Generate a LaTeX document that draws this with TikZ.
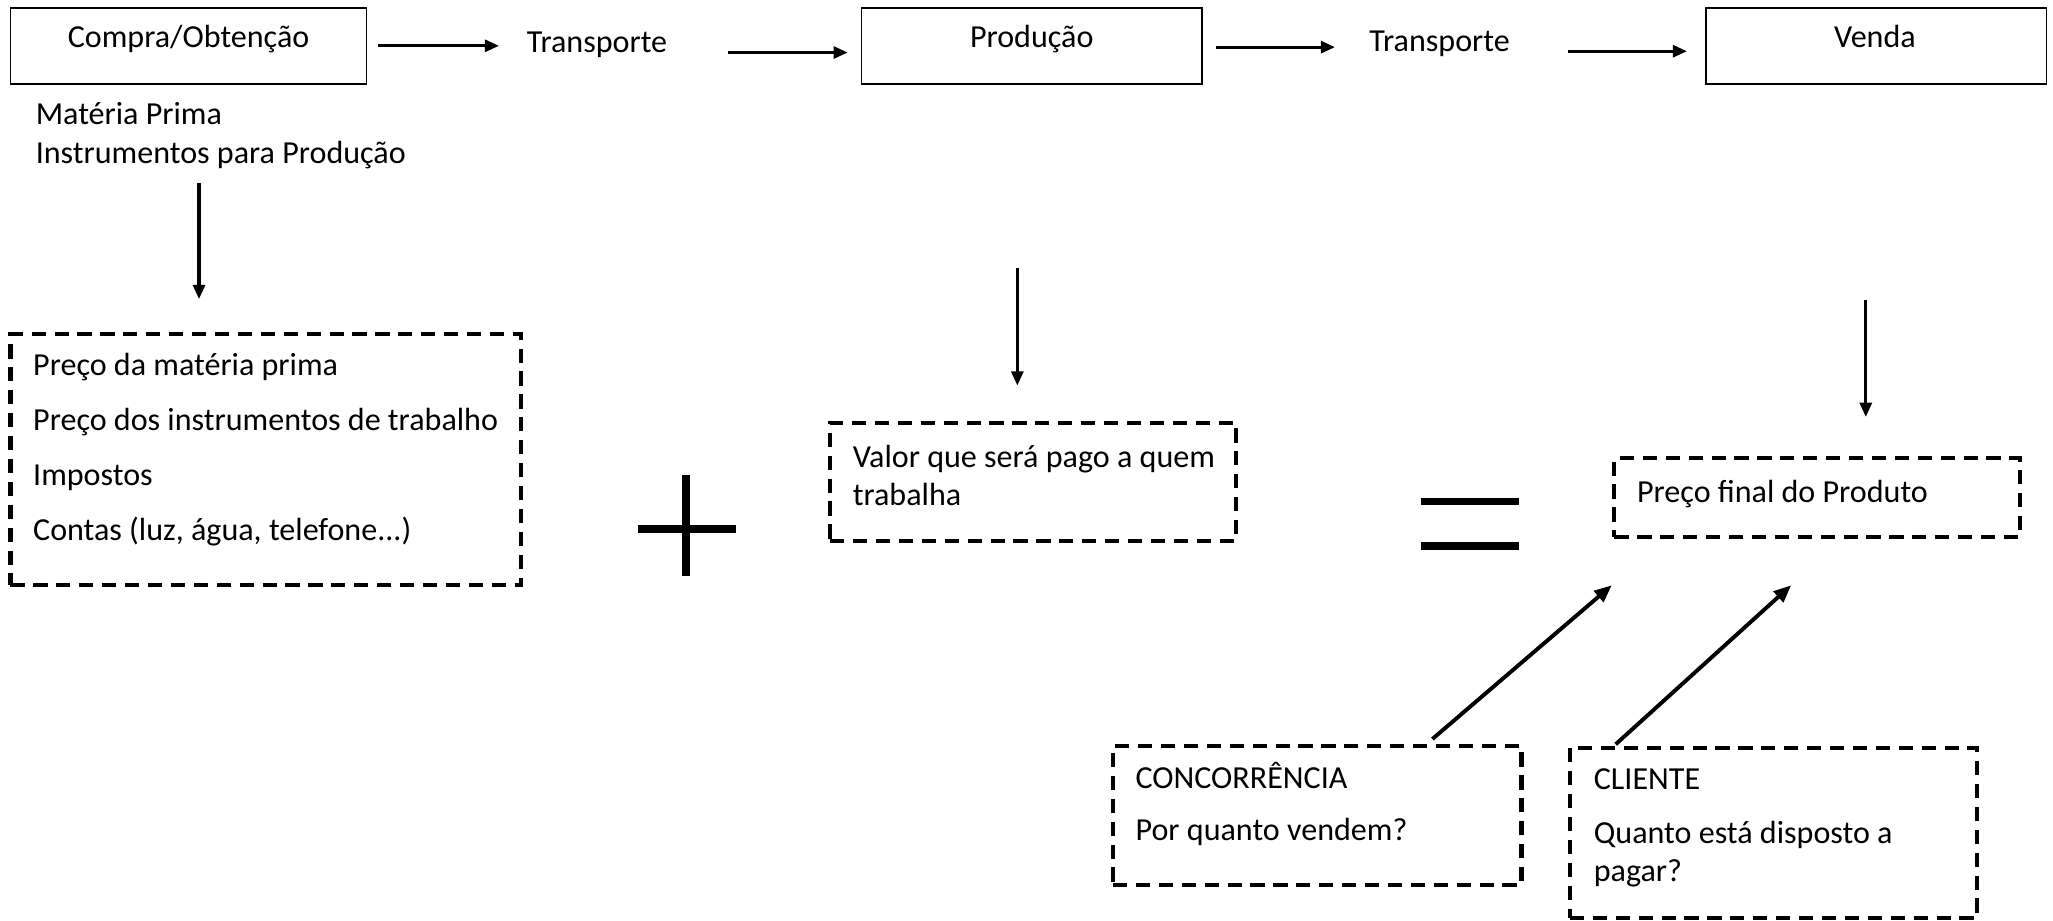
\documentclass[tikz,border=0pt]{standalone}
\usepackage{fontspec}
\setmainfont{Carlito}
\usetikzlibrary{arrows.meta}
\begin{document}
\begin{tikzpicture}[x=0.6pt, y=-0.6pt,
  every node/.style={font=\fontsize{14.7pt}{17.6pt}\selectfont},
  solidbox/.style={draw, line width=0.7pt, minimum width=156pt, minimum height=34.8pt, inner sep=0pt},
  dashbox/.style={draw, line width=1.9pt, dash pattern=on 6.5pt off 4pt, inner sep=0pt},
  txt/.style={inner sep=0pt, anchor=base},
  ltxt/.style={inner sep=0pt, anchor=base west},
  arr/.style={line width=1.4pt, -{Triangle[length=6.5pt, width=5.5pt]}},
  darr/.style={line width=1.8pt, -{Triangle[length=8pt, width=6.5pt]}},
  sign/.style={line width=3.6pt}]
\useasboundingbox (0,0) rectangle (1568,703);

% --- top row: stages of the chain ---
\node[solidbox, minimum width=163.2pt] (A) at (144,35) {};
\node[txt] (Atxt) at (144,36) {Compra/Obtenção};
\node[txt] (T1) at (456,40) {Transporte};
\node[solidbox] (B) at (788,35) {};
\node[txt] (Btxt) at (788,36) {Produção};
\node[txt] (T2) at (1099.5,39) {Transporte};
\node[solidbox] (C) at (1433,35) {};
\node[txt] (Ctxt) at (1432,36) {Venda};

\draw[arr, shorten <=4.8pt, shorten >=12.6pt] (A.east) -- (A.east -| T1.west);
\draw[arr, shorten <=27.6pt, shorten >=6pt] ([yshift=-3.6pt]T1.east) -- ([yshift=-3.6pt]T1.east -| B.west);
\draw[arr, shorten <=6pt, shorten >=15.6pt] ([yshift=-0.6pt]B.east) -- ([yshift=-0.6pt]B.east -| T2.west);
\draw[arr, shorten <=26.4pt, shorten >=8.4pt] ([yshift=-3.6pt]T2.east) -- ([yshift=-3.6pt]T2.east -| C.west);

% --- inputs of the purchase stage ---
\node[ltxt] (M1) at (27,95) {Matéria Prima};
\node[ltxt] (M2) at (27,125) {Instrumentos para Produção};

% --- cost boxes ---
\node[dashbox, minimum width=234pt, minimum height=115.2pt] (D1) at (203,351) {};
\node[ltxt] at (25,287) {Preço da matéria prima};
\node[ltxt] at (25,329) {Preço dos instrumentos de trabalho};
\node[ltxt] at (25,371) {Impostos};
\node[ltxt] at (25,413) {Contas (luz, água, telefone...)};

\node[dashbox, minimum width=186pt, minimum height=54pt] (D2) at (789,368) {};
\node[ltxt] at (651,357) {Valor que será pago a quem};
\node[ltxt] at (651,386) {trabalha};

\node[dashbox, minimum width=186pt, minimum height=36pt] (D3) at (1388,380) {};
\node[ltxt] at (1250,384) {Preço final do Produto};

\node[dashbox, minimum width=187.2pt, minimum height=63.6pt] (D4) at (1006,623) {};
\node[ltxt] at (867,602) {CONCORRÊNCIA};
\node[ltxt] at (867,642) {Por quanto vendem?};

\node[dashbox, minimum width=186.6pt, minimum height=78pt] (D5) at (1354.5,636) {};
\node[ltxt] at (1217,603) {CLIENTE};
\node[ltxt] at (1217,644) {Quanto está disposto a};
\node[ltxt] at (1217,673) {pagar?};

% --- vertical arrows ---
\coordinate (a1) at (152,140);
\draw[arr, shorten >=15pt] (a1) -- (a1 |- D1.north);
\coordinate (a2) at (777,205);
\draw[arr, shorten >=16.2pt] (a2) -- (a2 |- D2.north);
\coordinate (a3) at (1425,229);
\draw[arr, shorten >=18pt] (a3) -- (a3 |- D3.north);

% --- market influences on the final price ---
\coordinate (t4) at (1231,447);
\coordinate (t5) at (1368,447);
\draw[darr] ([xshift=52.8pt, yshift=2.4pt]D4.north) -- (t4);
\draw[darr] ([xshift=-72.3pt, yshift=0.6pt]D5.north) -- (t5);

% --- plus and equals signs ---
\draw[sign] (487,404) -- (562,404);
\draw[sign] (524,363) -- (524,440);
\draw[sign] (1085,383) -- (1160,383);
\draw[sign] (1085,417) -- (1160,417);
\end{tikzpicture}
\end{document}
